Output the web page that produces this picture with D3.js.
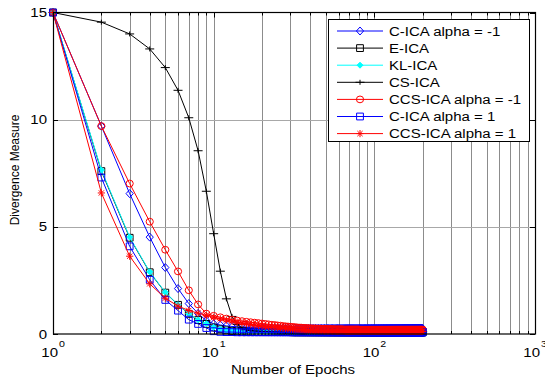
<!DOCTYPE html>
<html>
<head>
<meta charset="utf-8">
<script src="https://cdn.jsdelivr.net/npm/d3@7"></script>
<style>
body { margin: 0; background: #fff; }
text { font-family: "Liberation Sans", Arial, sans-serif; fill: #000; }
</style>
</head>
<body>
<div id="chart"></div>
<script>
// epochs 1..200, one value per epoch for each method
var epochs = d3.range(1, 201);

var cIcaNeg = [
  15, 9.7, 6.55, 4.52, 3.1, 2.12, 1.42, 0.96, 0.62, 0.48, 0.42, 0.38, 0.35, 0.33, 0.32, 0.31, 0.3, 0.3, 0.29, 0.29,
  0.29, 0.28, 0.28, 0.28, 0.28, 0.27, 0.27, 0.27, 0.27, 0.27, 0.27, 0.27, 0.26, 0.26, 0.26, 0.26, 0.26, 0.26, 0.26, 0.26,
  0.26, 0.26, 0.26, 0.26, 0.26, 0.26, 0.26, 0.26, 0.26, 0.26, 0.26, 0.26, 0.26, 0.26, 0.26, 0.26, 0.26, 0.26, 0.26, 0.26,
  0.26, 0.26, 0.26, 0.26, 0.26, 0.26, 0.26, 0.26, 0.26, 0.26, 0.26, 0.26, 0.26, 0.26, 0.26, 0.26, 0.26, 0.26, 0.26, 0.26,
  0.26, 0.26, 0.26, 0.26, 0.26, 0.26, 0.26, 0.26, 0.26, 0.26, 0.26, 0.26, 0.26, 0.26, 0.26, 0.26, 0.26, 0.26, 0.26, 0.26,
  0.26, 0.26, 0.26, 0.26, 0.26, 0.26, 0.26, 0.26, 0.26, 0.26, 0.26, 0.26, 0.26, 0.26, 0.26, 0.26, 0.26, 0.26, 0.26, 0.26,
  0.26, 0.26, 0.26, 0.26, 0.26, 0.26, 0.26, 0.26, 0.26, 0.26, 0.26, 0.26, 0.26, 0.26, 0.26, 0.26, 0.26, 0.26, 0.26, 0.26,
  0.26, 0.26, 0.26, 0.26, 0.26, 0.26, 0.26, 0.26, 0.26, 0.26, 0.26, 0.26, 0.26, 0.26, 0.26, 0.26, 0.26, 0.26, 0.26, 0.26,
  0.26, 0.26, 0.26, 0.26, 0.26, 0.26, 0.26, 0.26, 0.26, 0.26, 0.26, 0.26, 0.26, 0.26, 0.26, 0.26, 0.26, 0.26, 0.26, 0.26,
  0.26, 0.26, 0.26, 0.26, 0.26, 0.26, 0.26, 0.26, 0.26, 0.26, 0.26, 0.26, 0.26, 0.26, 0.26, 0.26, 0.26, 0.26, 0.26, 0.26
];

var eIca = [
  15, 7.6, 4.49, 2.88, 1.93, 1.36, 0.94, 0.65, 0.47, 0.3, 0.22, 0.17, 0.14, 0.12, 0.11, 0.1, 0.1, 0.09, 0.09, 0.09,
  0.09, 0.09, 0.09, 0.09, 0.09, 0.09, 0.09, 0.09, 0.09, 0.09, 0.08, 0.08, 0.08, 0.08, 0.08, 0.08, 0.08, 0.08, 0.08, 0.08,
  0.08, 0.08, 0.08, 0.08, 0.08, 0.08, 0.08, 0.08, 0.08, 0.08, 0.08, 0.08, 0.08, 0.08, 0.08, 0.08, 0.08, 0.08, 0.08, 0.08,
  0.08, 0.08, 0.08, 0.08, 0.08, 0.08, 0.08, 0.08, 0.08, 0.08, 0.08, 0.08, 0.08, 0.08, 0.08, 0.08, 0.08, 0.08, 0.08, 0.08,
  0.08, 0.08, 0.08, 0.08, 0.08, 0.08, 0.08, 0.08, 0.08, 0.08, 0.08, 0.08, 0.08, 0.08, 0.08, 0.08, 0.08, 0.08, 0.08, 0.08,
  0.08, 0.08, 0.08, 0.08, 0.08, 0.08, 0.08, 0.08, 0.08, 0.08, 0.08, 0.08, 0.08, 0.08, 0.08, 0.08, 0.08, 0.08, 0.08, 0.08,
  0.08, 0.08, 0.08, 0.08, 0.08, 0.08, 0.08, 0.08, 0.08, 0.08, 0.08, 0.08, 0.08, 0.08, 0.08, 0.08, 0.08, 0.08, 0.08, 0.08,
  0.08, 0.08, 0.08, 0.08, 0.08, 0.08, 0.08, 0.08, 0.08, 0.08, 0.08, 0.08, 0.08, 0.08, 0.08, 0.08, 0.08, 0.08, 0.08, 0.08,
  0.08, 0.08, 0.08, 0.08, 0.08, 0.08, 0.08, 0.08, 0.08, 0.08, 0.08, 0.08, 0.08, 0.08, 0.08, 0.08, 0.08, 0.08, 0.08, 0.08,
  0.08, 0.08, 0.08, 0.08, 0.08, 0.08, 0.08, 0.08, 0.08, 0.08, 0.08, 0.08, 0.08, 0.08, 0.08, 0.08, 0.08, 0.08, 0.08, 0.08
];

var klIca = [
  15, 7.65, 4.52, 2.9, 1.95, 1.37, 0.95, 0.66, 0.48, 0.31, 0.23, 0.18, 0.15, 0.13, 0.12, 0.11, 0.1, 0.1, 0.1, 0.09,
  0.09, 0.09, 0.09, 0.09, 0.09, 0.09, 0.09, 0.09, 0.09, 0.09, 0.09, 0.09, 0.08, 0.08, 0.08, 0.08, 0.08, 0.08, 0.08, 0.08,
  0.08, 0.08, 0.08, 0.08, 0.08, 0.08, 0.08, 0.08, 0.08, 0.08, 0.08, 0.08, 0.08, 0.08, 0.08, 0.08, 0.08, 0.08, 0.08, 0.08,
  0.08, 0.08, 0.08, 0.08, 0.08, 0.08, 0.08, 0.08, 0.08, 0.08, 0.08, 0.08, 0.08, 0.08, 0.08, 0.08, 0.08, 0.08, 0.08, 0.08,
  0.08, 0.08, 0.08, 0.08, 0.08, 0.08, 0.08, 0.08, 0.08, 0.08, 0.08, 0.08, 0.08, 0.08, 0.08, 0.08, 0.08, 0.08, 0.08, 0.08,
  0.08, 0.08, 0.08, 0.08, 0.08, 0.08, 0.08, 0.08, 0.08, 0.08, 0.08, 0.08, 0.08, 0.08, 0.08, 0.08, 0.08, 0.08, 0.08, 0.08,
  0.08, 0.08, 0.08, 0.08, 0.08, 0.08, 0.08, 0.08, 0.08, 0.08, 0.08, 0.08, 0.08, 0.08, 0.08, 0.08, 0.08, 0.08, 0.08, 0.08,
  0.08, 0.08, 0.08, 0.08, 0.08, 0.08, 0.08, 0.08, 0.08, 0.08, 0.08, 0.08, 0.08, 0.08, 0.08, 0.08, 0.08, 0.08, 0.08, 0.08,
  0.08, 0.08, 0.08, 0.08, 0.08, 0.08, 0.08, 0.08, 0.08, 0.08, 0.08, 0.08, 0.08, 0.08, 0.08, 0.08, 0.08, 0.08, 0.08, 0.08,
  0.08, 0.08, 0.08, 0.08, 0.08, 0.08, 0.08, 0.08, 0.08, 0.08, 0.08, 0.08, 0.08, 0.08, 0.08, 0.08, 0.08, 0.08, 0.08, 0.08
];

var csIca = [
  15, 14.55, 14.0, 13.3, 12.43, 11.37, 10.09, 8.55, 6.66, 4.68, 2.93, 1.64, 0.82, 0.45, 0.28, 0.2, 0.16, 0.14, 0.13, 0.12,
  0.12, 0.12, 0.11, 0.11, 0.11, 0.11, 0.11, 0.11, 0.1, 0.1, 0.1, 0.1, 0.1, 0.1, 0.1, 0.1, 0.1, 0.1, 0.1, 0.1,
  0.1, 0.1, 0.1, 0.1, 0.1, 0.1, 0.1, 0.1, 0.1, 0.1, 0.1, 0.1, 0.1, 0.1, 0.1, 0.1, 0.1, 0.1, 0.1, 0.1,
  0.1, 0.1, 0.1, 0.1, 0.1, 0.1, 0.1, 0.1, 0.1, 0.1, 0.1, 0.1, 0.1, 0.1, 0.1, 0.1, 0.1, 0.1, 0.1, 0.1,
  0.1, 0.1, 0.1, 0.1, 0.1, 0.1, 0.1, 0.1, 0.1, 0.1, 0.1, 0.1, 0.1, 0.1, 0.1, 0.1, 0.1, 0.1, 0.1, 0.1,
  0.1, 0.1, 0.1, 0.1, 0.1, 0.1, 0.1, 0.1, 0.1, 0.1, 0.1, 0.1, 0.1, 0.1, 0.1, 0.1, 0.1, 0.1, 0.1, 0.1,
  0.1, 0.1, 0.1, 0.1, 0.1, 0.1, 0.1, 0.1, 0.1, 0.1, 0.1, 0.1, 0.1, 0.1, 0.1, 0.1, 0.1, 0.1, 0.1, 0.1,
  0.1, 0.1, 0.1, 0.1, 0.1, 0.1, 0.1, 0.1, 0.1, 0.1, 0.1, 0.1, 0.1, 0.1, 0.1, 0.1, 0.1, 0.1, 0.1, 0.1,
  0.1, 0.1, 0.1, 0.1, 0.1, 0.1, 0.1, 0.1, 0.1, 0.1, 0.1, 0.1, 0.1, 0.1, 0.1, 0.1, 0.1, 0.1, 0.1, 0.1,
  0.1, 0.1, 0.1, 0.1, 0.1, 0.1, 0.1, 0.1, 0.1, 0.1, 0.1, 0.1, 0.1, 0.1, 0.1, 0.1, 0.1, 0.1, 0.1, 0.1
];

var ccsIcaNeg = [
  15, 9.7, 7.02, 5.24, 3.93, 2.92, 2.04, 1.38, 0.95, 0.85, 0.78, 0.72, 0.67, 0.63, 0.6, 0.57, 0.55, 0.53, 0.51, 0.49,
  0.47, 0.45, 0.43, 0.42, 0.4, 0.39, 0.37, 0.36, 0.35, 0.34, 0.33, 0.32, 0.31, 0.3, 0.3, 0.29, 0.28, 0.28, 0.27, 0.27,
  0.26, 0.26, 0.26, 0.25, 0.25, 0.25, 0.24, 0.24, 0.24, 0.24, 0.23, 0.23, 0.23, 0.23, 0.23, 0.22, 0.22, 0.22, 0.22, 0.22,
  0.22, 0.22, 0.22, 0.21, 0.21, 0.21, 0.21, 0.21, 0.21, 0.21, 0.21, 0.21, 0.21, 0.21, 0.21, 0.21, 0.21, 0.21, 0.21, 0.21,
  0.2, 0.2, 0.2, 0.2, 0.2, 0.2, 0.2, 0.2, 0.2, 0.2, 0.2, 0.2, 0.2, 0.2, 0.2, 0.2, 0.2, 0.2, 0.2, 0.2,
  0.2, 0.2, 0.2, 0.2, 0.2, 0.2, 0.2, 0.2, 0.2, 0.2, 0.2, 0.2, 0.2, 0.2, 0.2, 0.2, 0.2, 0.2, 0.2, 0.2,
  0.2, 0.2, 0.2, 0.2, 0.2, 0.2, 0.2, 0.2, 0.2, 0.2, 0.2, 0.2, 0.2, 0.2, 0.2, 0.2, 0.2, 0.2, 0.2, 0.2,
  0.2, 0.2, 0.2, 0.2, 0.2, 0.2, 0.2, 0.2, 0.2, 0.2, 0.2, 0.2, 0.2, 0.2, 0.2, 0.2, 0.2, 0.2, 0.2, 0.2,
  0.2, 0.2, 0.2, 0.2, 0.2, 0.2, 0.2, 0.2, 0.2, 0.2, 0.2, 0.2, 0.2, 0.2, 0.2, 0.2, 0.2, 0.2, 0.2, 0.2,
  0.2, 0.2, 0.2, 0.2, 0.2, 0.2, 0.2, 0.2, 0.2, 0.2, 0.2, 0.2, 0.2, 0.2, 0.2, 0.2, 0.2, 0.2, 0.2, 0.2
];

var cIcaPos = [
  15, 7.3, 4.09, 2.53, 1.59, 1.09, 0.67, 0.47, 0.28, 0.13, 0.1, 0.09, 0.09, 0.08, 0.08, 0.08, 0.08, 0.08, 0.08, 0.08,
  0.08, 0.08, 0.08, 0.08, 0.08, 0.08, 0.08, 0.08, 0.08, 0.08, 0.08, 0.08, 0.08, 0.08, 0.08, 0.08, 0.08, 0.08, 0.08, 0.08,
  0.08, 0.08, 0.08, 0.08, 0.08, 0.08, 0.08, 0.08, 0.08, 0.08, 0.08, 0.08, 0.08, 0.08, 0.08, 0.08, 0.08, 0.08, 0.08, 0.08,
  0.08, 0.08, 0.08, 0.08, 0.08, 0.08, 0.08, 0.08, 0.08, 0.08, 0.08, 0.08, 0.08, 0.08, 0.08, 0.08, 0.08, 0.08, 0.08, 0.08,
  0.08, 0.08, 0.08, 0.08, 0.08, 0.08, 0.08, 0.08, 0.08, 0.08, 0.08, 0.08, 0.08, 0.08, 0.08, 0.08, 0.08, 0.08, 0.08, 0.08,
  0.08, 0.08, 0.08, 0.08, 0.08, 0.08, 0.08, 0.08, 0.08, 0.08, 0.08, 0.08, 0.08, 0.08, 0.08, 0.08, 0.08, 0.08, 0.08, 0.08,
  0.08, 0.08, 0.08, 0.08, 0.08, 0.08, 0.08, 0.08, 0.08, 0.08, 0.08, 0.08, 0.08, 0.08, 0.08, 0.08, 0.08, 0.08, 0.08, 0.08,
  0.08, 0.08, 0.08, 0.08, 0.08, 0.08, 0.08, 0.08, 0.08, 0.08, 0.08, 0.08, 0.08, 0.08, 0.08, 0.08, 0.08, 0.08, 0.08, 0.08,
  0.08, 0.08, 0.08, 0.08, 0.08, 0.08, 0.08, 0.08, 0.08, 0.08, 0.08, 0.08, 0.08, 0.08, 0.08, 0.08, 0.08, 0.08, 0.08, 0.08,
  0.08, 0.08, 0.08, 0.08, 0.08, 0.08, 0.08, 0.08, 0.08, 0.08, 0.08, 0.08, 0.08, 0.08, 0.08, 0.08, 0.08, 0.08, 0.08, 0.08
];

var ccsIcaPos = [
  15, 6.58, 3.63, 2.34, 1.67, 1.3, 1.1, 0.97, 0.87, 0.78, 0.71, 0.65, 0.6, 0.55, 0.51, 0.48, 0.45, 0.42, 0.4, 0.38,
  0.36, 0.34, 0.33, 0.31, 0.3, 0.29, 0.27, 0.26, 0.25, 0.24, 0.23, 0.22, 0.21, 0.21, 0.2, 0.19, 0.19, 0.18, 0.18, 0.17,
  0.17, 0.16, 0.16, 0.16, 0.15, 0.15, 0.15, 0.15, 0.14, 0.14, 0.14, 0.14, 0.14, 0.14, 0.13, 0.13, 0.13, 0.13, 0.13, 0.13,
  0.13, 0.13, 0.13, 0.13, 0.13, 0.12, 0.12, 0.12, 0.12, 0.12, 0.12, 0.12, 0.12, 0.12, 0.12, 0.12, 0.12, 0.12, 0.12, 0.12,
  0.12, 0.12, 0.12, 0.12, 0.12, 0.12, 0.12, 0.12, 0.12, 0.12, 0.12, 0.12, 0.12, 0.12, 0.12, 0.12, 0.12, 0.12, 0.12, 0.12,
  0.12, 0.12, 0.12, 0.12, 0.12, 0.12, 0.12, 0.12, 0.12, 0.12, 0.12, 0.12, 0.12, 0.12, 0.12, 0.12, 0.12, 0.12, 0.12, 0.12,
  0.12, 0.12, 0.12, 0.12, 0.12, 0.12, 0.12, 0.12, 0.12, 0.12, 0.12, 0.12, 0.12, 0.12, 0.12, 0.12, 0.12, 0.12, 0.12, 0.12,
  0.12, 0.12, 0.12, 0.12, 0.12, 0.12, 0.12, 0.12, 0.12, 0.12, 0.12, 0.12, 0.12, 0.12, 0.12, 0.12, 0.12, 0.12, 0.12, 0.12,
  0.12, 0.12, 0.12, 0.12, 0.12, 0.12, 0.12, 0.12, 0.12, 0.12, 0.12, 0.12, 0.12, 0.12, 0.12, 0.12, 0.12, 0.12, 0.12, 0.12,
  0.12, 0.12, 0.12, 0.12, 0.12, 0.12, 0.12, 0.12, 0.12, 0.12, 0.12, 0.12, 0.12, 0.12, 0.12, 0.12, 0.12, 0.12, 0.12, 0.12
];

var seriesNames = ["C-ICA alpha = -1", "E-ICA", "KL-ICA", "CS-ICA", "CCS-ICA alpha = -1", "C-ICA alpha = 1", "CCS-ICA alpha = 1"];
var seriesValues = [cIcaNeg, eIca, klIca, csIca, ccsIcaNeg, cIcaPos, ccsIcaPos];
var seriesColors = ["#0000ff", "#000000", "#00ffff", "#000000", "#ff0000", "#0000ff", "#ff0000"];
var seriesMarkers = ["diamond", "square", "filled", "plus", "circle", "square", "star"];

var yTicks = [0, 5, 10, 15];
var xMajor = [1, 10, 100, 1000];
var xLabel = "Number of Epochs";
var yLabel = "Divergence Measure";

var width = 545, height = 379;
var x0 = 53, x1 = 535, yTop = 12.5, yBot = 334;
var sx = 1.25; // picture is stretched horizontally

var svg = d3.select("#chart").append("svg")
  .attr("width", width)
  .attr("height", height);

var x = d3.scaleLog().domain([1, 1000]).range([x0, x1]);
var y = d3.scaleLinear().domain([0, 15]).range([yBot, yTop]);

// minor positions of the log axis
var xMinor = [];
[1, 10, 100].forEach(function(b){
  for (var k = 2; k <= 9; k++) xMinor.push(b * k);
});

function label(g, txt, px, py, anchor, size){
  return g.append("text")
    .attr("transform", "translate(" + px + "," + py + ") scale(" + sx + ",1)")
    .attr("text-anchor", anchor)
    .style("font-size", size + "px")
    .text(txt);
}

// grid
var grid = svg.append("g").attr("stroke", "#8c8c8c").attr("stroke-width", 1);
grid.selectAll(".vg").data(xMinor).enter().append("line")
  .attr("x1", function(d){ return Math.round(x(d)) + 0.5; })
  .attr("x2", function(d){ return Math.round(x(d)) + 0.5; })
  .attr("y1", yTop).attr("y2", yBot);
grid.selectAll(".vm").data([10, 100]).enter().append("line")
  .attr("x1", function(d){ return Math.round(x(d)) + 0.5; })
  .attr("x2", function(d){ return Math.round(x(d)) + 0.5; })
  .attr("y1", yTop).attr("y2", yBot);
grid.selectAll(".hg").data([5, 10]).enter().append("line")
  .attr("x1", x0).attr("x2", x1)
  .attr("y1", function(d){ return Math.round(y(d)) + 0.5; })
  .attr("y2", function(d){ return Math.round(y(d)) + 0.5; })
  .attr("stroke", "#a8a8a8");

// axis ticks (inside, all four sides)
var ticks = svg.append("g").attr("stroke", "#000").attr("stroke-width", 1);
xMajor.concat(xMinor).forEach(function(d){
  var len = xMajor.indexOf(d) >= 0 ? 5 : 3;
  var px = Math.round(x(d)) + 0.5;
  ticks.append("line").attr("x1", px).attr("x2", px).attr("y1", yBot).attr("y2", yBot - len);
  ticks.append("line").attr("x1", px).attr("x2", px).attr("y1", yTop).attr("y2", yTop + len);
});
yTicks.forEach(function(d){
  var py = Math.round(y(d)) + 0.5;
  ticks.append("line").attr("x1", x0).attr("x2", x0 + 5).attr("y1", py).attr("y2", py);
  ticks.append("line").attr("x1", x1).attr("x2", x1 - 5).attr("y1", py).attr("y2", py);
});

// series
var line = d3.line()
  .x(function(d){ return x(d[0]); })
  .y(function(d){ return y(d[1]); });

function markerPath(type){
  switch (type) {
    case "diamond": return "M0,-4L3.6,0L0,4L-3.6,0Z";
    case "square": return "M-3.4,-3.4H3.4V3.4H-3.4Z";
    case "filled": return "M0,-3L3,0L0,3L-3,0Z";
    case "plus": return "M-4.5,0H4.5M0,-2.5V2.5";
    case "circle": return "M3.6,0A3.6,3.4 0 1,1 -3.6,0A3.6,3.4 0 1,1 3.6,0Z";
    case "star": return "M-3.6,0H3.6M0,-3.6V3.6M-2.6,-2.6L2.6,2.6M-2.6,2.6L2.6,-2.6";
  }
}

function drawMarker(g, type, color, px, py){
  g.append("path")
    .attr("transform", "translate(" + px + "," + py + ")")
    .attr("d", markerPath(type))
    .attr("fill", type === "filled" ? color : "none")
    .attr("stroke", color)
    .attr("stroke-width", 1);
}

var plot = svg.append("g");
seriesValues.forEach(function(vals, i){
  var pts = epochs.map(function(e, j){ return [e, vals[j]]; });
  var g = plot.append("g");
  g.append("path")
    .datum(pts)
    .attr("d", line)
    .attr("fill", "none")
    .attr("stroke", seriesColors[i])
    .attr("stroke-width", 1);
  pts.forEach(function(p){
    drawMarker(g, seriesMarkers[i], seriesColors[i], x(p[0]), y(p[1]));
  });
});

// axes box
svg.append("rect")
  .attr("x", x0 + 0.5).attr("y", yTop)
  .attr("width", x1 - x0).attr("height", yBot - yTop)
  .attr("fill", "none").attr("stroke", "#000").attr("stroke-width", 1.2);

// tick labels
var labels = svg.append("g");
yTicks.forEach(function(d){
  label(labels, String(d), 47, y(d) + 4.5, "end", 12);
});
xMajor.forEach(function(d){
  var k = Math.round(Math.log10(d));
  var px = x(d);
  label(labels, "10", px + 5, 356.5, "end", 12);
  label(labels, String(k), px + 6, 347, "start", 8.5);
});

label(labels, xLabel, 293, 374, "middle", 12);
labels.append("text")
  .attr("transform", "translate(19,170) rotate(-90)")
  .attr("text-anchor", "middle")
  .style("font-size", "12px")
  .text(yLabel);

// legend
var lg = svg.append("g");
lg.append("rect")
  .attr("x", 328.5).attr("y", 19.5)
  .attr("width", 201).attr("height", 122)
  .attr("fill", "#fff").attr("stroke", "#000").attr("stroke-width", 1);
seriesNames.forEach(function(name, i){
  var ly = 31 + i * 17.1;
  lg.append("line")
    .attr("x1", 337).attr("x2", 383)
    .attr("y1", ly).attr("y2", ly)
    .attr("stroke", seriesColors[i]).attr("stroke-width", 1);
  drawMarker(lg, seriesMarkers[i], seriesColors[i], 360, ly);
  label(lg, name, 389, ly + 4.5, "start", 12);
});
</script>
</body>
</html>
